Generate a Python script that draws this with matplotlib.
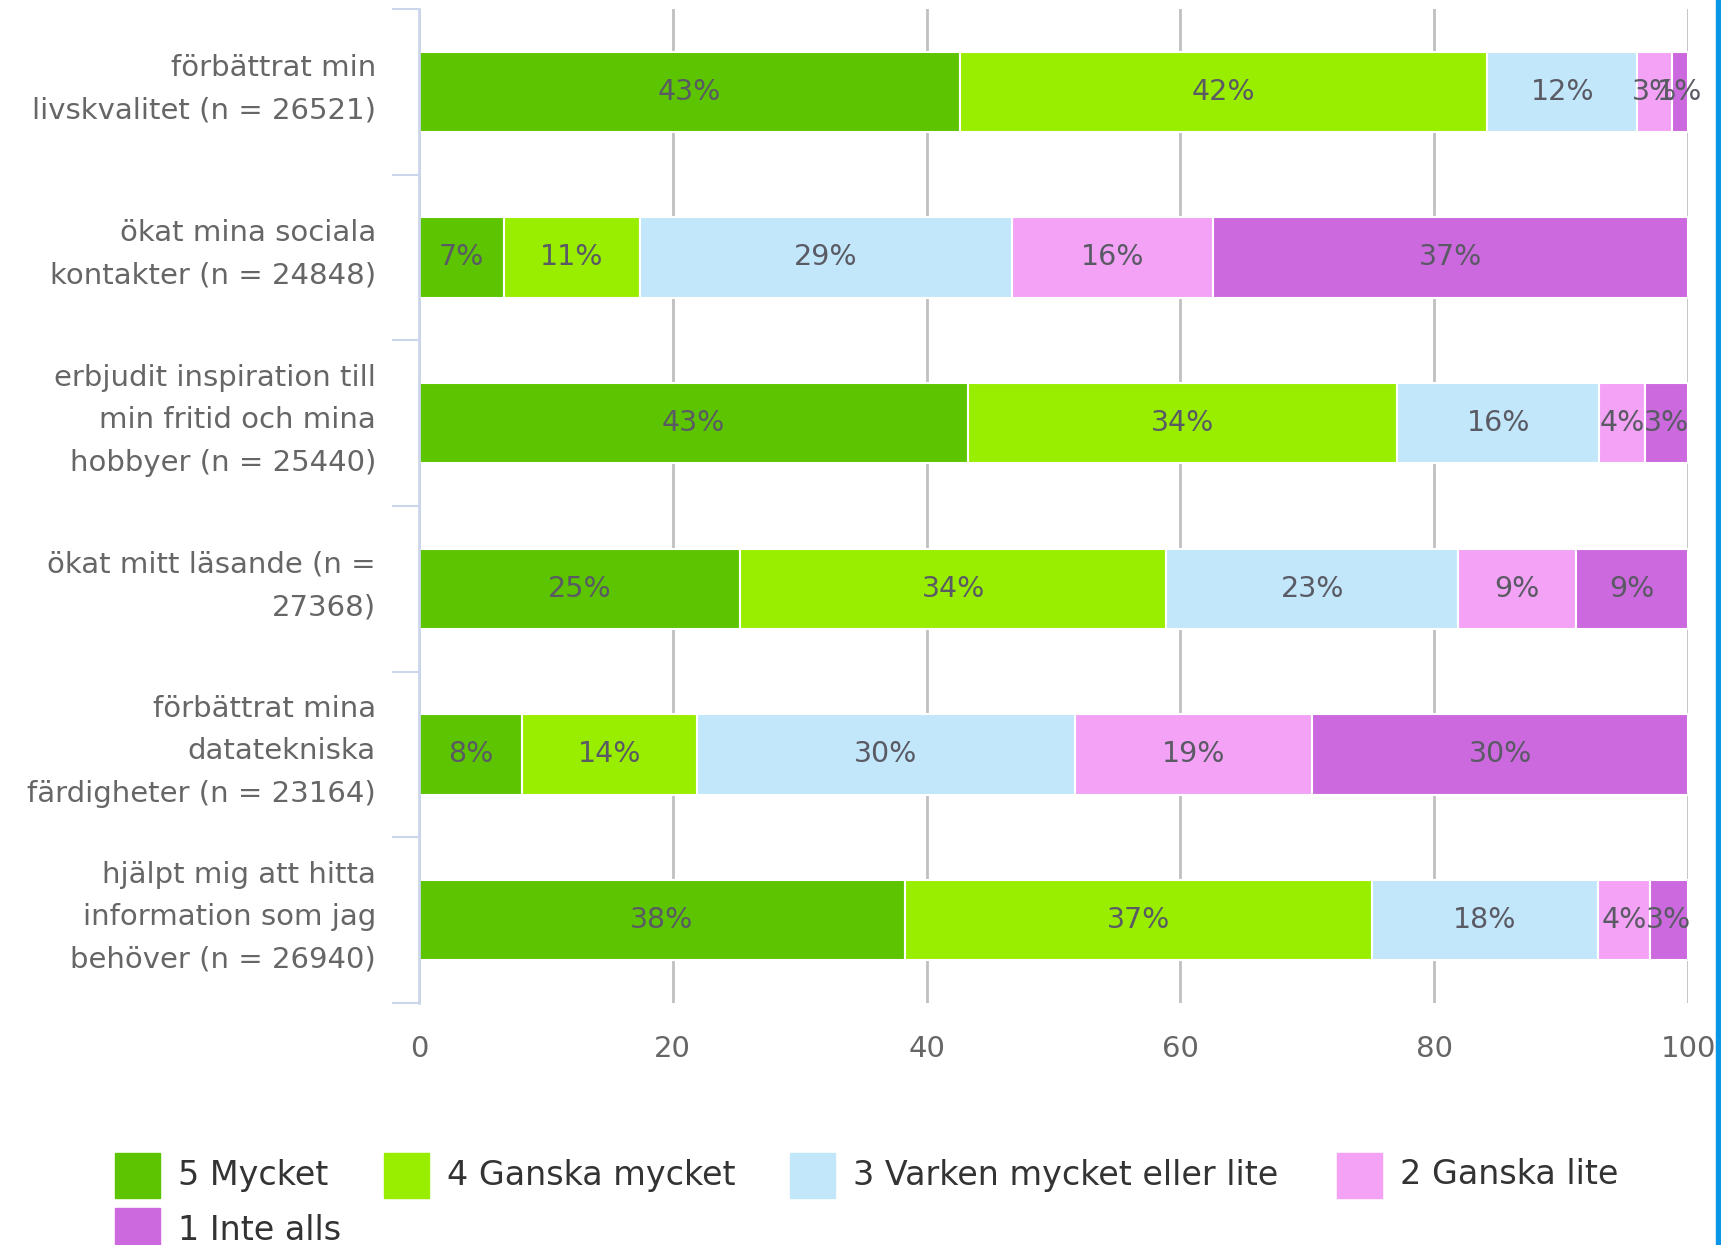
import matplotlib
matplotlib.use("Agg")
import matplotlib.pyplot as plt
from matplotlib.patches import Rectangle
from matplotlib.transforms import ScaledTranslation
import numpy as np

categories = [
    "förbättrat min\nlivskvalitet (n = 26521)",
    "ökat mina sociala\nkontakter (n = 24848)",
    "erbjudit inspiration till\nmin fritid och mina\nhobbyer (n = 25440)",
    "ökat mitt läsande (n =\n27368)",
    "förbättrat mina\ndatatekniska\nfärdigheter (n = 23164)",
    "hjälpt mig att hitta\ninformation som jag\nbehöver (n = 26940)",
]
series_names = ["5 Mycket", "4 Ganska mycket", "3 Varken mycket eller lite",
                "2 Ganska lite", "1 Inte alls"]
s5 = [42.6, 6.7, 43.3, 25.3, 8.1, 38.3]
s4 = [41.6, 10.7, 33.8, 33.6, 13.8, 36.8]
s3 = [11.8, 29.3, 15.9, 23.0, 29.8, 17.8]
s2 = [2.7, 15.9, 3.6, 9.3, 18.7, 4.1]
s1 = [1.3, 37.4, 3.4, 8.8, 29.6, 3.0]
xticks = [0, 20, 40, 60, 80, 100]

colors = ["#5cc400", "#99ee00", "#c2e6fa", "#f3a2f6", "#cc69de"]
series = [s5, s4, s3, s2, s1]

W, H = 1721, 1245
fig = plt.figure(figsize=(W / 100, H / 100), dpi=100)
ax = fig.add_axes([419 / W, 1 - 1003 / H, (1688 - 419) / W, (1003 - 9) / H])

y = np.arange(len(categories))
left = np.zeros(len(categories))
for vals, c in zip(series, colors):
    vals = np.array(vals)
    ax.barh(y, vals, left=left, height=0.485, color=c, edgecolor="white",
            linewidth=1.5, zorder=3)
    for yi, (l, v) in enumerate(zip(left, vals)):
        ax.text(l + v / 2, yi, f"{round(v):.0f}%", ha="center", va="center",
                fontsize=20.5, color="#5a5a64", zorder=4)
    left += vals

ax.set_xlim(0, 100)
ax.set_ylim(len(categories) - 0.5, -0.5)
ax.set_xticks(xticks)
ax.set_xticklabels([str(t) for t in xticks])
ax.tick_params(axis="x", length=0, pad=23, labelsize=21, labelcolor="#666666")
ax.set_yticks(y)
ax.set_yticklabels(categories, fontsize=21, color="#666666", linespacing=1.66,
                   va="center")
ax.tick_params(axis="y", length=0, pad=31)
offset = ScaledTranslation(0, 3 / 100, fig.dpi_scale_trans)
for lab in ax.get_yticklabels():
    lab.set_transform(lab.get_transform() + offset)
ax.set_yticks(np.arange(-0.5, len(categories)), minor=True)
ax.tick_params(axis="y", which="minor", length=19.5, width=1.5, color="#ccd6eb",
               direction="out")
ax.grid(axis="x", color="#c0c0c0", linewidth=2, zorder=0)
for s in ["top", "right", "bottom"]:
    ax.spines[s].set_visible(False)
ax.spines["left"].set_color("#ccd6eb")
ax.spines["left"].set_linewidth(2)
ax.spines["left"].set_zorder(5)

# legend
leg_pos = [(115, 1175), (384, 1175), (790, 1175), (1337, 1175), (115, 1230)]
for (lx, ly), name, c in zip(leg_pos, series_names, colors):
    sq = 45
    fig.patches.append(Rectangle((lx / W, 1 - (ly + sq / 2) / H), sq / W, sq / H,
                                 transform=fig.transFigure, color=c))
    fig.text((lx + 63) / W, 1 - ly / H, name, fontsize=24, color="#333333",
             ha="left", va="center")

# right blue stripe
fig.patches.append(Rectangle((1716 / W, 0), 5 / W, 1, transform=fig.transFigure,
                             color="#0a96e6"))

fig.savefig("out.png", dpi=100)
